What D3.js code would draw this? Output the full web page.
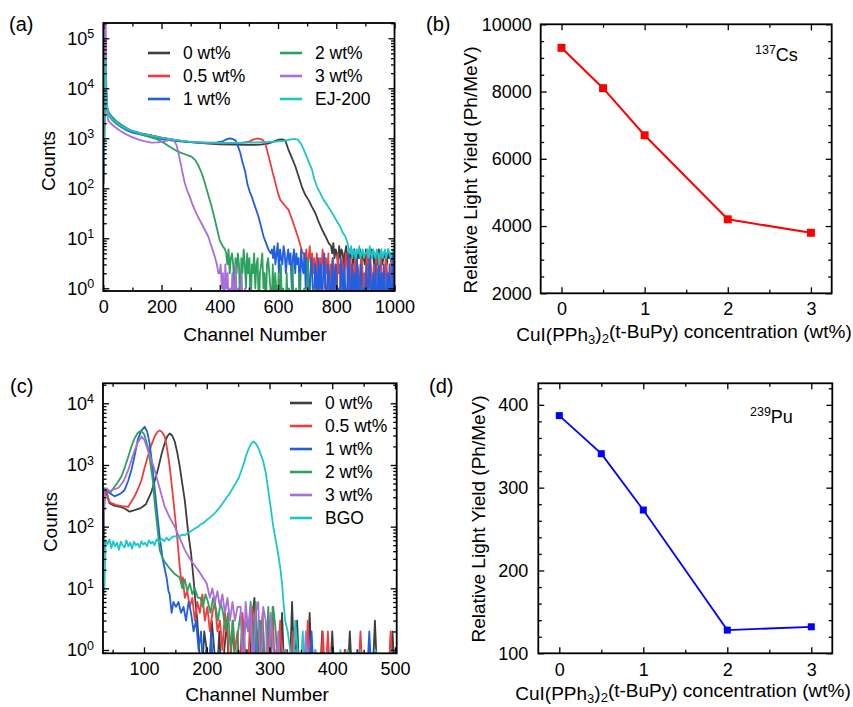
<!DOCTYPE html>
<html>
<head>
<meta charset="utf-8">
<script src="https://cdn.jsdelivr.net/npm/d3@7"></script>
<style>
  body { margin: 0; background: #fff; }
  svg { display: block; font-family: "Liberation Sans", Arial, Helvetica, sans-serif; }
</style>
</head>
<body>
<svg id="fig" width="853" height="707"></svg>
<script>
// ---------------- data ----------------
const concentrations = [0, 0.5, 1, 2, 3];          // wt%
const lightYieldCs = [9300, 8100, 6700, 4200, 3800]; // Ph/MeV, 137Cs
const lightYieldPu = [387, 341, 273, 128, 132];      // Ph/MeV, 239Pu

const namesA = ["0 wt%", "0.5 wt%", "1 wt%", "2 wt%", "3 wt%", "EJ-200"];
const namesC = ["0 wt%", "0.5 wt%", "1 wt%", "2 wt%", "3 wt%", "BGO"];
const seriesColors = ["#3d3d3d", "#f23b3b", "#1f5fe0", "#2ba15c", "#a96ddc", "#1cc7c7"];

// tick values / labels
const channelTicksA = [0, 200, 400, 600, 800, 1000];
const channelMinorA = [100, 300, 500, 700, 900];
const channelTicksC = [100, 200, 300, 400, 500];
const channelMinorC = [50, 150, 250, 350, 450];
const decadesA = [1, 10, 100, 1000, 10000, 100000];
const exponentsA = ["0", "1", "2", "3", "4", "5"];
const decadesC = [1, 10, 100, 1000, 10000];
const exponentsC = ["0", "1", "2", "3", "4"];
const concTicks = [0, 1, 2, 3];
const concMinor = [0.5, 1.5, 2.5];
const yieldTicksCs = [2000, 4000, 6000, 8000, 10000];
const yieldMinorCs = [2500, 3000, 3500, 4500, 5000, 5500, 6500, 7000, 7500, 8500, 9000, 9500];
const yieldTicksPu = [100, 200, 300, 400];
const yieldMinorPu = [120, 140, 160, 180, 220, 240, 260, 280, 320, 340, 360, 380, 420];

// 137Cs pulse-height spectra: [channel, counts]
const csPure = [[0,120],[3,900],[6,90000],[9,12000],[12,4500],[16,3400],[22,2900],[30,2500],[45,2100],[60,1800],[80,1550],[100,1400],[130,1250],[160,1150],[200,1030],[250,920],[300,840],[350,790],[400,760],[450,745],[500,740],[540,745],[565,780],[585,860],[602,940],[615,950],[625,900],[636,585],[648,400],[660,270],[671,170],[682,107],[693,75],[705,58],[717,42],[728,32],[740,21],[751,15],[763,11],[774,8]];
const csHalf = [[0,130],[3,1000],[6,100000],[9,12000],[12,4500],[16,3300],[22,2800],[30,2450],[45,2050],[60,1780],[80,1530],[100,1380],[130,1240],[160,1140],[200,1020],[250,910],[300,840],[350,800],[400,790],[450,800],[480,820],[500,860],[515,940],[528,990],[540,960],[548,920],[556,800],[565,500],[575,300],[583,190],[591,127],[600,80],[608,58],[620,48],[636,37],[648,24],[660,15],[670,10],[677,7],[685,5]];
const csOne = [[0,110],[3,800],[6,27000],[9,9000],[12,4200],[16,3200],[22,2700],[30,2350],[45,1950],[60,1700],[80,1450],[100,1300],[130,1180],[160,1080],[200,960],[250,880],[300,840],[350,820],[390,830],[410,870],[425,960],[435,1000],[445,960],[455,900],[463,680],[470,520],[478,330],[487,220],[495,120],[503,85],[510,68],[520,45],[533,27],[542,17],[550,11],[559,8],[567,6],[575,5]];
const csTwo = [[0,185],[3,1200],[6,60000],[9,10000],[12,4800],[16,3600],[22,3100],[30,2700],[45,2200],[60,1900],[80,1600],[100,1400],[130,1200],[160,1060],[185,960],[211,790],[235,640],[257,540],[280,480],[303,430],[315,370],[326,290],[338,200],[349,126],[360,75],[372,43],[380,28],[389,17],[395,12],[400,9],[410,7],[418,6]];
const csThree = [[0,140],[3,2000],[5,300000],[8,300000],[10,15000],[13,3500],[16,2300],[25,2000],[39,1700],[55,1450],[73,1250],[95,1080],[119,950],[140,880],[165,820],[185,830],[200,850],[218,900],[234,960],[243,900],[251,740],[257,550],[263,370],[271,220],[280,126],[288,90],[297,68],[305,50],[314,37],[325,27],[337,20],[348,15],[360,11],[371,7],[383,4.3],[390,3],[395,2]];
const csEJ200 = [[0,120],[3,700],[6,40000],[9,10000],[12,4300],[16,3300],[22,2800],[30,2450],[45,2050],[60,1780],[80,1540],[100,1390],[130,1240],[160,1140],[200,1020],[250,920],[300,850],[350,820],[400,810],[450,810],[500,820],[550,840],[590,860],[620,890],[640,940],[655,970],[668,940],[680,760],[694,500],[705,340],[717,233],[725,150],[734,107],[745,80],[757,58],[770,45],[786,32],[800,23],[814,17],[822,13],[831,11],[839,8]];

// 137Cs spectrum tails: counts every 4 channels from the given start channel
const tailStepA = 4;
const tailStartA = [782, 689, 579, 422, 399, 843];
const csPureTail = [7,5,8,4,6,5,3,7,4,6,5,3,5,7,4,3,6,4,5,3,6,4,3,5,4,6,3,5,4,3,6,4,5,3,4,6,5,3,4,5,3,6,4,5,3,4,5,4,3,6,4,5,3,4,5];
const csHalfTail = [5,3,6,2,4,7,3,5,2,4,1,5,3,0,4,2,6,3,1,4,2,5,0,3,2,4,1,3,0,5,2,3,1,4,0,2,5,3,1,0,4,2,3,0,5,1,3,2,0,4,3,1,2,0,5,3,1,4,2,0,3,1,4,2,0,3,5,1,2,0,4,3,1,2,0,3,4,1];
const csOneTail = [6,4,7,3,5,8,2,6,4,3,7,5,2,4,6,3,5,1,4,6,2,5,3,4,0,6,3,2,5,1,4,3,0,2,4,1,0,3,2,0,4,1,3,0,2,5,1,0,3,2,0,1,4,0,2,3,0,1,0,4,2,0,3,1,0,2,5,0,1,3,0,2,0,4,1,0,3,2,0,1,0,3,0,2,4,0,1,2,0,3,0,1,4,0,2,0,3,1,0,2,0,3,0,1,5,0];
const csTwoTail = [5,3,6,2,4,5,3,1,4,2,5,3,0,4,2,6,3,1,5,2,4,0,3,2,5,1,3,4,0,2,3,5,1,2,0,3,4,2,1,0,3,0,2,1,0,2,0,3,0,1,0,0,2,0,1,0,0,3,0,0,1,0,0,2,0,0,0,1,0,0,4,0,0,0,0,1,0,0,0,0];
const csThreeTail = [2,3,1,2,0,3,1,2,0,1,0,2,1,0,3,0,1,0,0,2,0,0,1,0,0,0,1];
const csEJ200Tail = [6,5,7,4,6,5,4,6,5,7,4,5,6,4,5,5,6,4,7,5,4,6,5,4,6,5,3,5,6,4,5,6,4,5,6,5,4,5,6,5];

// 239Pu pulse-height spectra: [channel, counts]
const puPure = [[35,20],[37,330],[40,360],[45,240],[52,220],[62,210],[70,195],[77,175],[85,185],[95,200],[103,230],[112,370],[117,550],[122,830],[128,1500],[133,2240],[137,2900],[141,3240],[145,3000],[149,2400],[153,1600],[157,940],[161,500],[165,270],[170,88],[175,37],[179,14],[182,6],[185,3],[188,1]];
const puHalf = [[35,25],[37,360],[40,380],[45,250],[55,225],[65,215],[75,210],[85,310],[91,420],[96,570],[101,900],[106,1360],[111,2000],[117,2900],[121,3400],[125,3640],[129,3400],[133,2900],[137,1800],[141,940],[145,400],[149,165],[153,65],[157,22],[160,12],[162,15],[165,7]];
const puOne = [[35,30],[37,400],[40,390],[45,350],[53,310],[62,340],[69,390],[75,560],[80,830],[85,1400],[90,2530],[95,3500],[101,4170],[105,3500],[109,2240],[114,830],[117,420],[120,210],[125,69],[130,29],[136,15],[139,9],[141,8],[144,4],[147,6]];
const puTwo = [[35,35],[37,420],[40,400],[47,360],[53,445],[58,520],[64,650],[70,950],[75,1360],[80,2000],[85,2700],[90,3300],[95,3600],[100,3200],[106,2000],[110,1100],[114,570],[117,250],[120,130],[125,42],[129,32],[133,27],[141,21],[149,17],[157,15],[161,10],[165,14],[169,9],[173,12],[177,8],[181,10],[186,7]];
const puThree = [[35,40],[37,400],[40,420],[45,380],[52,400],[60,430],[68,560],[75,830],[82,1400],[89,2200],[96,2900],[101,2500],[106,1750],[112,1200],[117,830],[125,420],[133,210],[141,140],[149,100],[157,65],[165,42],[175,28],[186,20],[200,12],[205,7],[209,10],[213,6],[217,9],[221,5],[225,8],[229,4],[233,7],[237,3],[241,6],[245,3],[249,5]];
const puBGO = [[36,8],[37,10],[39,60],[42,52],[45,62],[48,45],[51,58],[54,48],[57,55],[60,42],[63,57],[66,50],[69,46],[72,60],[75,48],[78,55],[81,44],[84,57],[87,50],[90,53],[93,46],[96,58],[99,51],[102,55],[105,48],[108,60],[111,53],[114,57],[117,50],[120,62],[124,56],[128,64],[132,58],[136,66],[140,60],[145,68],[150,70],[155,66],[160,74],[165,72],[170,80],[175,84],[180,92],[185,98],[190,108],[195,115],[200,128],[205,140],[210,155],[215,175],[220,200],[226,245],[232,300],[237,350],[242,430],[247,520],[251,620],[255,800],[259,1050],[262,1350],[266,1750],[270,2150],[274,2400],[278,2250],[282,1900],[286,1500],[290,1150],[294,750],[298,390],[302,200],[306,100],[310,60],[314,35],[317,22],[320,12],[322,6.5],[325,3]];

// 239Pu spectrum tails: counts every 4 channels from the given start channel
const tailStepC = 4;
const tailStartC = [192, 169, 151, 190, 254, 329];
const puPureTail = [0,2,1,0,3,1,0,2,0,1,3,0,2,1,0,0,2,0,1,0,3,7,0,3,1,0,0,2,0,1,0,0,4,0,1,0,6,0,3,0,0,1,0,4,0,0,0,0,2,0,0,0,2,0,0,0,0,1,0,2,0,0,1,0,0,0,0,0,0,3,0,0,0,0,0,0,2,0];
const puHalfTail = [9,5,7,3,6,4,8,3,5,2,4,6,2,3,1,4,2,0,3,1,2,0,4,1,0,3,5,0,2,1,4,0,3,0,5,0,0,3,0,1,0,0,2,0,0,0,0,0,3,0,0,1,0,0,2,0,2,0,0,0,0,0,0,1,0,0,0,0,0,2,0,0,0,0,0,0,0,0,0,0,0,2,0];
const puOneTail = [5,6,4,5,3,6,4,2,3,1,2,0,1,0,2,0,0,1,0,0,0,0,0,0,0,0,0,0,0,0,0,0,3,0,0,0,0,0,0,0,0,0,0,0,0,0,0,0,0,0,0,0,0,0,2,0,0,0,0,0,0,0,0,0,0,0,0,0,0,0,0,0,0,0,0,0,0,2,0];
const puTwoTail = [7,5,8,6,4,7,5,3,6,4,2,4,1,3,0,2,4,1,3,2,6,1,6,0,3,2,0,5,1,5,2,0,0,1,0,0,0,0,0,0];
const puThreeTail = [5,0,6,2,5,0,4,6,0,5,3,0,4,1,0,2,0,0,1,0,0,0,1,0,0,0,2,0,0,0];
const puBGOTail = [2,1,0,3,1,0,2,0,1,0,0,1,0,0,0,0,0,1,0,0,0,1,0,0,1,0,0,0,0,1,0,0,0,0,0,1,0,0,0,0,0,1,0];

// ---------------- drawing ----------------
const fig = d3.select("#fig");
const defs = fig.append("defs");
const TICK_FONT = 18, TITLE_FONT = 19, LEGEND_FONT = 17.5;

function withTail(main, tail, start, step) {
  return main.concat(tail.map((c, i) => [start + i * step, c]));
}

function makePanel(id, box) {
  defs.append("clipPath").attr("id", "clip-" + id)
    .append("rect").attr("width", box.w).attr("height", box.h);
  return fig.append("g").attr("transform", `translate(${box.left},${box.top})`);
}

function drawAxes(g, x, y, w, h, spec) {
  const blank = () => "";
  const styleAxis = sel => {
    sel.attr("font-size", null).attr("font-family", null);
    sel.select(".domain").remove();
    sel.selectAll(".tick line").attr("stroke", "#000").attr("stroke-width", 1.3);
    sel.selectAll(".tick text").attr("fill", "#000").style("font-size", TICK_FONT + "px");
  };
  const make = (gen, vals, len, fmt) =>
    gen.tickValues(vals).tickSizeInner(-len).tickSizeOuter(0).tickPadding(spec.pad).tickFormat(fmt);

  g.append("g").attr("transform", `translate(0,${h})`)
    .call(make(d3.axisBottom(x), spec.xMajor, 6, spec.xFmt)).call(styleAxis);
  g.append("g").attr("transform", `translate(0,${h})`)
    .call(make(d3.axisBottom(x), spec.xMinor, 3.5, blank)).call(styleAxis);
  g.append("g").call(make(d3.axisTop(x), spec.xMajor, 6, blank)).call(styleAxis);
  g.append("g").call(make(d3.axisTop(x), spec.xMinor, 3.5, blank)).call(styleAxis);

  const left = g.append("g")
    .call(make(d3.axisLeft(y), spec.yMajor, 6, spec.exps ? blank : spec.yFmt)).call(styleAxis);
  g.append("g").call(make(d3.axisLeft(y), spec.yMinor, 3.5, blank)).call(styleAxis);
  g.append("g").attr("transform", `translate(${w},0)`)
    .call(make(d3.axisRight(y), spec.yMajor, 6, blank)).call(styleAxis);
  g.append("g").attr("transform", `translate(${w},0)`)
    .call(make(d3.axisRight(y), spec.yMinor, 3.5, blank)).call(styleAxis);

  if (spec.exps) {
    left.selectAll(".tick text").each(function (d, i) {
      const t = d3.select(this);
      t.append("tspan").text("10");
      t.append("tspan").attr("dy", "-0.5em").style("font-size", "12.5px").text(spec.exps[i]);
    });
  }

  g.append("rect").attr("width", w).attr("height", h)
    .attr("fill", "none").attr("stroke", "#000").attr("stroke-width", 1.8);
}

function drawSpectra(g, id, x, y, series) {
  const line = d3.line().x(d => x(d[0])).y(d => y(Math.max(d[1], 0.3)));
  g.append("g").attr("clip-path", `url(#clip-${id})`)
    .selectAll("path").data(series).join("path")
    .attr("d", d => line(d.points))
    .attr("fill", "none")
    .attr("stroke", d => d.color)
    .attr("stroke-width", 1.8)
    .attr("stroke-linejoin", "round");
}

function legendEntry(x0, y0, color, label) {
  fig.append("line").attr("x1", x0).attr("x2", x0 + 22).attr("y1", y0).attr("y2", y0)
    .attr("stroke", color).attr("stroke-width", 2.6);
  fig.append("text").attr("x", x0 + 35).attr("y", y0 + 6.2)
    .style("font-size", LEGEND_FONT + "px").text(label);
}

function text(x, y, str, size, opts = {}) {
  const t = fig.append("text").attr("x", x).attr("y", y).style("font-size", size + "px");
  if (opts.anchor) t.attr("text-anchor", opts.anchor);
  if (opts.rotate) t.attr("transform", `rotate(-90,${x},${y})`);
  return t.text(str);
}

function concTitle(cx, y) {
  const t = fig.append("text").attr("x", cx).attr("y", y).attr("text-anchor", "middle")
    .style("font-size", TITLE_FONT + "px");
  t.append("tspan").text("CuI(PPh");
  t.append("tspan").attr("dy", "0.25em").style("font-size", "13px").text("3");
  t.append("tspan").attr("dy", "-0.25em").text(")");
  t.append("tspan").attr("dy", "0.25em").style("font-size", "13px").text("2");
  t.append("tspan").attr("dy", "-0.25em").text("(t-BuPy) concentration (wt%)");
}

function isotope(x, y, mass, sym) {
  const t = fig.append("text").attr("x", x).attr("y", y).style("font-size", "18px");
  t.append("tspan").attr("dy", "-7").style("font-size", "12.5px").text(mass);
  t.append("tspan").attr("dy", "7").text(sym);
}

// ---- (a) 137Cs spectra ----
{
  const box = { left: 103.3, top: 23, w: 291.2, h: 268 };
  const g = makePanel("a", box);
  const x = d3.scaleLinear().domain([0, 1000]).range([0, box.w]);
  const y = d3.scaleLog().domain([0.883, 2.02e5]).range([box.h, 0]);
  const mains = [csPure, csHalf, csOne, csTwo, csThree, csEJ200];
  const tails = [csPureTail, csHalfTail, csOneTail, csTwoTail, csThreeTail, csEJ200Tail];
  const series = mains.map((m, i) => ({
    name: namesA[i], color: seriesColors[i],
    points: withTail(m, tails[i], tailStartA[i], tailStepA)
  }));
  drawSpectra(g, "a", x, y, series);
  drawAxes(g, x, y, box.w, box.h, {
    pad: 9, xMajor: channelTicksA, xMinor: channelMinorA, xFmt: d3.format("d"),
    yMajor: decadesA, yMinor: y.ticks().filter(v => !decadesA.includes(v)), exps: exponentsA
  });
  [0, 1, 2].forEach(i => legendEntry(148, 53 + i * 23, seriesColors[i], namesA[i]));
  [3, 4, 5].forEach(i => legendEntry(280, 53 + (i - 3) * 23, seriesColors[i], namesA[i]));
  text(255, 341, "Channel Number", TITLE_FONT, { anchor: "middle" });
  text(55, 161, "Counts", TITLE_FONT, { anchor: "middle", rotate: true });
  text(9, 31, "(a)", 20);
}

// ---- (b) light yield, 137Cs ----
{
  const box = { left: 540.7, top: 24.3, w: 291, h: 269 };
  const g = makePanel("b", box);
  const x = d3.scaleLinear().domain([-0.25, 3.25]).range([0, box.w]);
  const y = d3.scaleLinear().domain([2000, 10000]).range([box.h, 0]);
  const pts = concentrations.map((c, i) => [c, lightYieldCs[i]]);
  g.append("path").datum(pts)
    .attr("d", d3.line().x(d => x(d[0])).y(d => y(d[1])))
    .attr("fill", "none").attr("stroke", "#ff0000").attr("stroke-width", 2);
  g.selectAll("rect.mk").data(pts).join("rect").attr("class", "mk")
    .attr("x", d => x(d[0]) - 4).attr("y", d => y(d[1]) - 4)
    .attr("width", 8).attr("height", 8).attr("fill", "#ff0000");
  drawAxes(g, x, y, box.w, box.h, {
    pad: 9, xMajor: concTicks, xMinor: concMinor, xFmt: d3.format("d"),
    yMajor: yieldTicksCs, yMinor: yieldMinorCs, yFmt: d3.format("d")
  });
  isotope(755, 60.5, "137", "Cs");
  concTitle(684, 341);
  text(477, 170, "Relative Light Yield (Ph/MeV)", TITLE_FONT, { anchor: "middle", rotate: true });
  text(426, 31, "(b)", 20);
}

// ---- (c) 239Pu spectra ----
{
  const box = { left: 103, top: 383.3, w: 293.7, h: 270 };
  const g = makePanel("c", box);
  const x = d3.scaleLinear().domain([34.7, 502.7]).range([0, box.w]);
  const y = d3.scaleLog().domain([0.884, 21090]).range([box.h, 0]);
  const mains = [puPure, puHalf, puOne, puTwo, puThree, puBGO];
  const tails = [puPureTail, puHalfTail, puOneTail, puTwoTail, puThreeTail, puBGOTail];
  const series = mains.map((m, i) => ({
    name: namesC[i], color: seriesColors[i],
    points: withTail(m, tails[i], tailStartC[i], tailStepC)
  }));
  drawSpectra(g, "c", x, y, series);
  drawAxes(g, x, y, box.w, box.h, {
    pad: 9, xMajor: channelTicksC, xMinor: channelMinorC, xFmt: d3.format("d"),
    yMajor: decadesC, yMinor: y.ticks().filter(v => !decadesC.includes(v)), exps: exponentsC
  });
  namesC.forEach((n, i) => legendEntry(290, 403 + i * 23, seriesColors[i], n));
  text(257, 701, "Channel Number", TITLE_FONT, { anchor: "middle" });
  text(57, 522, "Counts", TITLE_FONT, { anchor: "middle", rotate: true });
  text(10, 393, "(c)", 20);
}

// ---- (d) light yield, 239Pu ----
{
  const box = { left: 538.3, top: 383.3, w: 294, h: 270 };
  const g = makePanel("d", box);
  const x = d3.scaleLinear().domain([-0.25, 3.25]).range([0, box.w]);
  const y = d3.scaleLinear().domain([100, 426]).range([box.h, 0]);
  const pts = concentrations.map((c, i) => [c, lightYieldPu[i]]);
  g.append("path").datum(pts)
    .attr("d", d3.line().x(d => x(d[0])).y(d => y(d[1])))
    .attr("fill", "none").attr("stroke", "#0000ff").attr("stroke-width", 1.8);
  g.selectAll("rect.mk").data(pts).join("rect").attr("class", "mk")
    .attr("x", d => x(d[0]) - 3.5).attr("y", d => y(d[1]) - 3.5)
    .attr("width", 7).attr("height", 7).attr("fill", "#0000ff");
  drawAxes(g, x, y, box.w, box.h, {
    pad: 10, xMajor: concTicks, xMinor: concMinor, xFmt: d3.format("d"),
    yMajor: yieldTicksPu, yMinor: yieldMinorPu, yFmt: d3.format("d")
  });
  isotope(750, 422.5, "239", "Pu");
  concTitle(683, 700);
  text(485, 519, "Relative Light Yield (Ph/MeV)", TITLE_FONT, { anchor: "middle", rotate: true });
  text(429, 393, "(d)", 20);
}
</script>
</body>
</html>
